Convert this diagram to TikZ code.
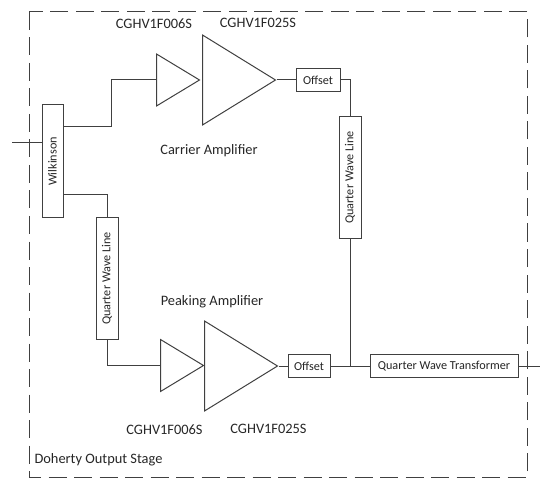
\documentclass[tikz,border=0pt]{standalone}
\usepackage{fontspec}
\setmainfont{Carlito}
\usetikzlibrary{
  calc, % For the bends of the lines
  shapes.geometric % For the amplifier triangles
}

\begin{document}
\begin{tikzpicture}[
      x=1pt, y=-1pt,
      wire/.style={line width=1pt, black!75},
      frame/.style={line width=1pt, black!75, dash pattern=on 18pt off 7.5pt},
      block/.style={wire, draw, fill=white, inner sep=0pt, text=black!85, font=\fontsize{12.2}{14}\selectfont},
      amp/.style={wire, draw, isosceles triangle, isosceles triangle stretches, inner sep=0pt, anchor=lower side},
      smallamp/.style={amp, minimum width=52pt, minimum height=43pt},
      bigamp/.style={amp, minimum width=90pt, minimum height=73pt},
      label/.style={text=black!85, font=\fontsize{14.4}{16}\selectfont},
    ]
    \useasboundingbox (0,0) rectangle (540,478);

    % Outer border
    \draw[frame] (29,12) rectangle (527,477);

    % Blocks
    \node[block, rotate=90, minimum width=113pt, minimum height=21pt] (wilk) at (52.5,161.5) {Wilkinson};
    \node[block, minimum width=44pt, minimum height=23pt] (offsetC) at (318,80) {Offset};
    \node[block, rotate=90, minimum width=121pt, minimum height=22pt] (lineC) at (350,177.5) {Quarter Wave Line};
    \node[block, rotate=90, minimum width=121pt, minimum height=22pt] (lineP) at (107,278.5) {Quarter Wave Line};
    \node[block, minimum width=42pt, minimum height=23pt] (offsetP) at (309,366) {Offset};
    \node[block, minimum width=148pt, minimum height=23pt] (qwt) at (444,366) {Quarter Wave Transformer};

    % Amplifiers
    \node[smallamp] (ampC1) at (156,80) {};
    \node[bigamp] (ampC2) at (202,80) {};
    \node[smallamp] (ampP1) at (160,365.5) {};
    \node[bigamp] (ampP2) at (204,366) {};

    % Free ends and bends
    \coordinate (in) at (12,143);
    \coordinate (out) at (540,366);
    \coordinate (wilkC) at (63,127);
    \coordinate (wilkP) at (63,195);
    \coordinate (joint) at (lineC.west |- qwt.west);

    % Carrier path
    \draw[wire] (in) -- (in -| wilk.north);
    \draw[wire] (wilkC) -- (111,127) |- (ampC1.lower side);
    \draw[wire] (ampC2.apex) -- (offsetC.west);
    \draw[wire] (offsetC.east) -| (lineC.east);
    \draw[wire] (lineC.west) -- (joint);

    % Peaking path
    \draw[wire] (wilkP) -| (lineP.east);
    \draw[wire] (lineP.west) |- (ampP1.lower side);
    \draw[wire] (ampP2.apex) -- (offsetP.west);
    \draw[wire] (offsetP.east) -- (qwt.west);
    \draw[wire] (qwt.east) -- (out);

    % Labels
    \node[label] (typeC1) at (154,24) {CGHV1F006S};
    \node[label] (typeC2) at (258,23) {CGHV1F025S};
    \node[label] (carrier) at (209,151) {Carrier Amplifier};
    \node[label] (peaking) at (212,302) {Peaking Amplifier};
    \node[label] (typeP1) at (164.5,430) {CGHV1F006S};
    \node[label] (typeP2) at (268.5,429) {CGHV1F025S};
    \node[label] (stage) at (98.5,460) {Doherty Output Stage};
  \end{tikzpicture}
\end{document}
